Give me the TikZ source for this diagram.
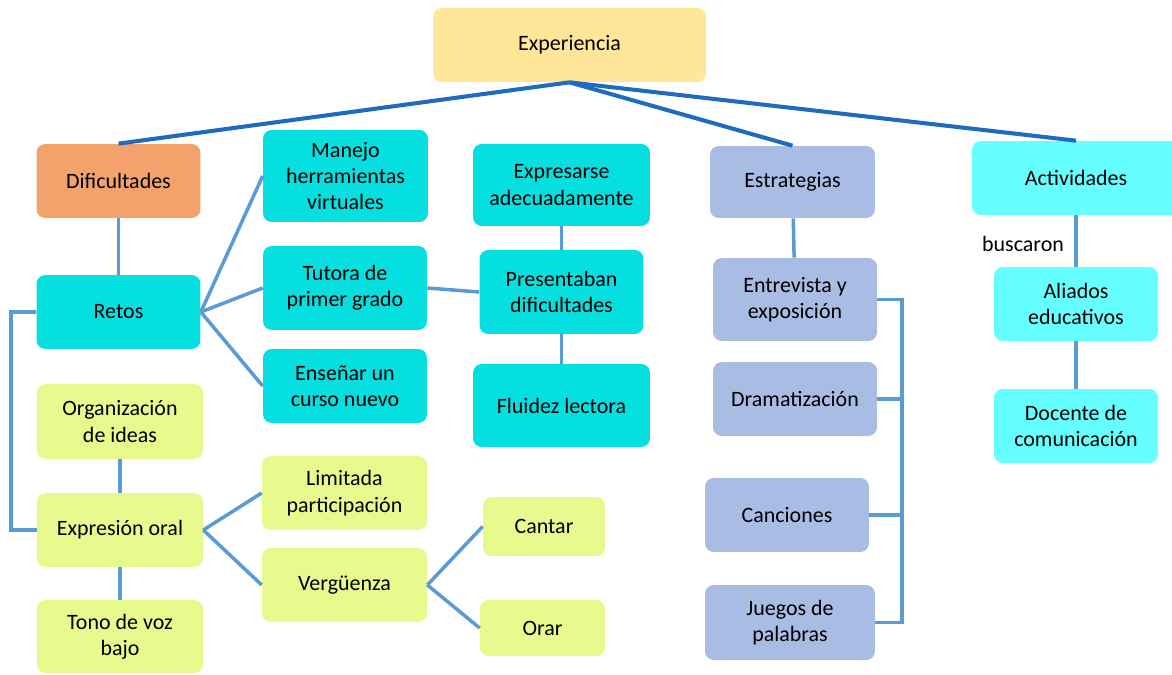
\documentclass[tikz,border=0pt]{standalone}
\usepackage{fontspec}
\setmainfont{Carlito}
\usepackage{tikz}
\usetikzlibrary{positioning, calc}

\definecolor{topline}{HTML}{1F6BBF}
\definecolor{subline}{HTML}{5B9BD5}
\definecolor{crema}{HTML}{FFE699}
\definecolor{naranja}{HTML}{F2A26A}
\definecolor{turquesa}{HTML}{06DFDF}
\definecolor{lima}{HTML}{E8F98E}
\definecolor{lavanda}{HTML}{A8BCE4}
\definecolor{celeste}{HTML}{66FFFF}

\begin{document}
\begin{tikzpicture}[
    x=0.02cm, y=-0.02cm,
    box/.style={rectangle, rounded corners=5pt, align=center, inner sep=2pt,
        font=\fontsize{12.5}{15}\selectfont, minimum width=3.28cm, minimum height=1.48cm},
    raiz/.style={box, fill=crema, minimum width=5.46cm},
    dific/.style={box, fill=naranja},
    reto/.style={box, fill=turquesa},
    oral/.style={box, fill=lima},
    estra/.style={box, fill=lavanda},
    activ/.style={box, fill=celeste},
    main/.style={draw=topline, line width=2.3pt},
    link/.style={draw=subline, line width=2pt},
]
\useasboundingbox (0,0) rectangle (1172,675);

% Top node
\node[raiz] (experiencia) at (569.5,45) {Experiencia};

% Dificultades branch
\node[dific] (dificultades) at (118.5,181) {Dificultades};
\node[reto] (retos) at (118.5,312) {Retos};
\node[reto, minimum width=3.3cm, minimum height=1.84cm] (manejo) at (345.5,176) {Manejo\\herramientas\\virtuales};
\node[reto, minimum height=1.68cm] (tutora) at (345,288) {Tutora de\\primer grado};
\node[reto] (ensenar) at (345,386) {Enseñar un\\curso nuevo};
\node[reto, minimum width=3.54cm, minimum height=1.64cm] (expresarse) at (561.5,185) {Expresarse\\adecuadamente};
\node[reto, minimum height=1.68cm] (presentaban) at (561.5,292) {Presentaban\\dificultades};
\node[reto, minimum width=3.54cm, minimum height=1.66cm] (fluidez) at (561.5,405.5) {Fluidez lectora};

% Expresion oral
\node[oral, minimum width=3.32cm, minimum height=1.5cm] (organizacion) at (120,421.5) {Organización\\de ideas};
\node[oral, minimum width=3.32cm] (expresion) at (120,530) {Expresión oral};
\node[oral, minimum width=3.32cm, minimum height=1.46cm] (tono) at (120,636.5) {Tono de voz\\bajo};
\node[oral, minimum width=3.3cm] (limitada) at (344.5,493) {Limitada\\participación};
\node[oral, minimum width=3.3cm] (verguenza) at (344.5,585) {Vergüenza};
\node[oral, minimum width=2.44cm, minimum height=1.18cm] (cantar) at (544,526.5) {Cantar};
\node[oral, minimum width=2.5cm, minimum height=1.12cm] (orar) at (542.5,628) {Orar};

% Estrategias branch
\node[estra, minimum width=3.3cm, minimum height=1.44cm] (estrategias) at (792.5,182) {Estrategias};
\node[estra, minimum height=1.66cm] (entrevista) at (795,299.5) {Entrevista y\\exposición};
\node[estra] (dramatizacion) at (795,399) {Dramatización};
\node[estra] (canciones) at (787,515) {Canciones};
\node[estra, minimum width=3.4cm, minimum height=1.5cm] (juegos) at (790,622.5) {Juegos de\\palabras};

% Actividades branch
\node[activ, minimum width=4.16cm] (actividades) at (1076,178) {Actividades};
\node[activ] (aliados) at (1076,304) {Aliados\\educativos};
\node[activ] (docente) at (1076,426) {Docente de\\comunicación};
\node[font=\fontsize{12.5}{15}\selectfont] (buscaron) at (1023,244) {buscaron};

% Lines from the top
\draw[main] (experiencia.south) -- (dificultades.north);
\draw[main] (experiencia.south) -- (estrategias.north);
\draw[main] (experiencia.south) -- (actividades.north);

% Retos links
\draw[link] (dificultades) -- (retos);
\draw[link] (retos.east) -- (manejo.west);
\draw[link] (retos.east) -- (tutora.west);
\draw[link] (retos.east) -- (ensenar.west);
\draw[link] (tutora.east) -- (presentaban.west);
\draw[link] (expresarse) -- (presentaban);
\draw[link] (presentaban) -- (fluidez);
\draw[link] (retos.west) -- ++(-25,0) |- (expresion.west);

% Expresion oral links
\draw[link] (organizacion) -- (expresion);
\draw[link] (expresion) -- (tono);
\draw[link] (expresion.east) -- (limitada.west);
\draw[link] (expresion.east) -- (verguenza.west);
\draw[link] (verguenza.east) -- (cantar.west);
\draw[link] (verguenza.east) -- (orar.west);

% Estrategias bracket
\coordinate (brk) at (902,299);
\draw[link] (estrategias) -- (entrevista);
\draw[link] (entrevista.east) -- (entrevista.east -| brk) -- (juegos.east -| brk) -- (juegos.east);
\draw[link] (dramatizacion.east) -- (dramatizacion.east -| brk);
\draw[link] (canciones.east) -- (canciones.east -| brk);

% Actividades links
\draw[link] (actividades) -- (aliados);
\draw[link] (aliados) -- (docente);

\end{tikzpicture}
\end{document}
